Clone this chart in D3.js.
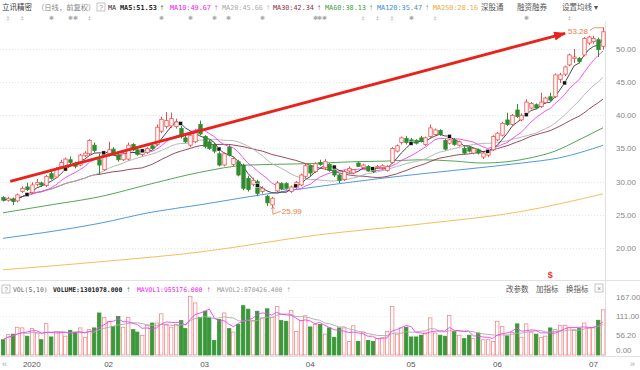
<!DOCTYPE html>
<html lang="zh">
<head>
<meta charset="utf-8">
<title>立讯精密 日线</title>
<script src="https://d3js.org/d3.v7.min.js"></script>
<style>
body { margin: 0; background: #fff; }
svg { display: block; }
.mono { font-family: "DejaVu Sans Mono", "Liberation Mono", monospace; }
.cjk { font-family: "Noto Sans CJK SC", "Noto Sans", sans-serif; }
.num { font-family: "Liberation Sans", Arial, sans-serif; }
</style>
</head>
<body>
<div id="viz"></div>
<script>
// daily candles, 2019-12-24 .. 2020-07-03 (front-adjusted)
var opens = [27.6,27.2,27.4,27.1,28.5,29.2,28.4,29.6,29.8,29.4,
  31.2,30.7,32.2,32.1,33.3,32.8,32.5,33.9,34.2,35.5,
  33.3,31.8,34.2,34.9,34.0,33.3,33.4,35.6,34.8,34.1,
  34.4,35.4,35.6,37.6,38.3,38.4,38.3,38.0,36.6,35.5,
  36.0,38.6,36.8,36.0,35.5,34.2,32.5,35.2,32.6,33.0,
  32.5,30.5,29.6,30.0,28.5,27.8,26.5,28.6,29.7,29.7,
  28.5,29.1,29.5,30.8,32.4,31.5,32.9,32.1,32.6,31.8,
  31.0,30.3,31.6,31.3,32.8,32.1,32.3,32.0,32.1,32.1,
  31.7,32.9,34.6,35.9,36.5,36.3,36.2,36.6,35.6,36.8,
  37.1,37.7,36.2,35.8,36.3,35.5,35.0,35.2,34.3,34.8,
  33.7,34.0,34.8,36.3,37.0,39.3,38.6,40.8,39.3,40.3,
  41.1,41.6,41.3,41.9,42.8,42.8,45.4,46.2,47.6,48.6,
  48.6,49.1,50.9,51.1,51.4,50.4];
var highs = [27.8,27.7,27.6,28.2,29.3,29.8,29.9,30.4,30.0,31.0,
  31.6,32.2,33.3,33.6,33.8,33.0,34.2,34.6,36.4,35.9,
  34.2,34.2,36.0,35.2,34.2,34.5,35.9,35.8,35.0,34.8,
  35.2,35.6,38.6,39.8,40.5,40.4,39.5,38.4,36.9,37.5,
  37.9,39.2,37.0,36.3,35.8,34.6,34.4,35.5,33.7,33.3,
  32.7,30.9,30.6,30.3,29.3,28.0,27.7,30.1,29.9,29.9,
  29.4,30.1,31.2,32.8,32.6,32.9,33.3,33.4,32.8,32.3,
  31.2,31.8,32.3,31.9,33.0,32.7,32.5,32.2,32.5,32.6,
  32.5,35.2,35.6,36.8,36.9,36.6,36.4,36.9,36.8,38.6,
  38.0,37.9,36.4,36.5,36.6,36.2,35.3,35.4,35.1,35.0,
  34.5,34.9,37.0,37.5,39.0,40.4,40.2,41.7,40.3,42.4,
  42.0,41.8,43.4,42.8,43.4,46.3,46.4,47.5,49.3,50.0,
  48.8,51.8,52.0,52.0,51.7,53.28];
var lows = [27.0,27.0,26.5,26.9,28.3,28.6,28.2,29.3,29.2,29.2,
  30.3,30.5,31.9,31.9,32.6,32.0,32.3,33.7,34.0,34.4,
  31.0,31.6,33.8,34.0,33.0,33.1,33.2,34.6,33.9,33.8,
  34.2,34.8,35.4,37.3,38.0,38.1,38.0,36.5,35.8,35.2,
  35.8,37.0,35.0,34.8,34.3,32.3,32.3,33.8,32.3,30.8,
  28.7,28.5,29.3,27.8,28.2,26.3,25.99,28.4,28.7,28.8,
  28.3,28.9,29.3,30.5,30.8,31.3,32.4,31.8,31.5,30.7,
  29.8,30.1,31.4,31.1,32.2,31.9,31.5,31.3,31.9,31.8,
  31.5,32.7,34.4,35.6,35.6,35.8,35.6,35.9,35.4,36.6,
  36.9,36.9,34.7,35.6,35.4,35.3,34.1,34.4,34.1,34.1,
  33.4,33.7,34.6,36.1,36.8,38.4,38.4,39.6,39.1,40.1,
  40.9,40.9,41.1,41.7,42.1,42.6,44.9,45.9,47.4,47.9,
  47.8,48.9,50.6,50.8,48.8,49.9];
var closes = [27.2,27.5,27.0,28.0,29.0,28.8,29.5,29.9,29.5,30.8,
  30.5,31.9,32.9,33.4,32.9,32.3,34.0,34.3,36.2,34.7,
  32.5,34.0,34.8,34.2,33.3,34.2,35.5,34.8,34.1,34.6,
  35.0,35.0,38.2,39.4,39.2,39.5,39.0,36.8,36.0,37.0,
  37.5,37.2,35.3,35.0,34.6,32.5,34.2,34.0,33.5,31.0,
  29.0,28.8,30.2,28.2,29.0,26.8,27.5,29.8,28.9,29.0,
  29.2,29.9,31.0,32.4,31.3,32.7,32.6,33.0,31.7,31.0,
  30.2,31.5,32.0,31.8,32.3,32.5,31.6,31.5,32.3,32.4,
  32.3,35.0,35.4,36.6,35.9,36.0,35.8,36.1,36.6,38.1,
  37.8,37.1,34.9,36.3,35.6,36.0,34.3,34.6,35.0,34.3,
  34.3,34.7,36.8,37.3,38.8,38.6,40.0,39.8,40.0,42.0,
  41.8,41.1,42.0,42.6,42.3,46.1,46.1,47.3,49.1,48.8,
  48.1,51.6,51.8,51.6,49.9,52.6];
// volume, unit 10k shares
var volumes = [44,58.5,60,79.8,78,54,76,63.5,44,90.4,
  52,68,66,54,71,66,78,51,73,78,
  121,108.5,97,82.5,111,80,108.5,73,66,56.6,
  85.6,92,92,118.6,87.6,80,87.6,99,76,169,
  150,108.5,126,107,42,102,121,76,66,88,
  142,132,99,126,107,133,108.5,140,99,97,
  128.8,68,99,113,80.8,88,88,60,78,51,
  78,78,39,84,39,66,42,39,47,49,
  68,140,60,78,80,52,52,57,63.5,107,
  63.5,57,54,114,68,57,47,57,47,63.5,
  44,44,39,97,82.5,55,65,89.6,51,89.6,
  66,60,51,54,78,73,85.6,85.6,78,73,
  76,92,78,78,100,130.1];

// long averages (history not shown)
var ma60Idx = [0,10,20,31,41,51,63,73,80,87,94,100,105,110,115,120,125];
var ma60Val = [25.3,26.5,27.7,29.7,31.4,32.5,32.7,33.0,33.1,33.3,33.1,32.8,33.0,33.6,34.6,36.3,38.13];
var ma120Idx = [0,20,31,41,51,63,80,94,108,116,125];
var ma120Val = [21.45,23.7,25.4,26.5,27.7,29.0,30.6,31.7,32.8,33.6,35.47];
var ma250Idx = [0,20,40,66,87,108,125];
var ma250Val = [16.7,17.9,19.3,22.0,23.6,25.5,28.16];

var monthIdx = [6,22,42,64,85,103,123];
var monthLab = ["2020","02","03","04","05","06","07"];
var priceTicks = [20,25,30,35,40,45,50];
var volTicks = [0,56.2,111,167];
var signalIdx = [5,13,21,29,37,45,53,61,69,77,85,93,101,109,117];
var eventIdx = [1,4,10,14,15,18,33,39,44,47,54,65,66,67,75,78,81,85,90,109,118];
var eventSym = ["‡","‡","✱","✱","✱","‡","✱","✱","✱","✱","✱","✱","✱","✱","‡","‡","‡","✱","‡","✱","‡"];
var trendI = [1.5,117.1], trendP = [30.05,52.37];

var RED = "#ee4b4b", GREEN = "#2f8c2f";

function ma(arr, n) {
  return arr.map(function(d, i) {
    var s = arr.slice(Math.max(0, i - n + 1), i + 1);
    return d3.mean(s);
  });
}
var ma5 = ma(closes, 5), ma10 = ma(closes, 10), ma20 = ma(closes, 20), ma30 = ma(closes, 30);
var mavol1 = ma(volumes, 5), mavol2 = ma(volumes, 10);

var svg = d3.select("#viz").append("svg").attr("width", 640).attr("height", 370);

var x = d3.scaleLinear().domain([0, 125]).range([3, 603]);
var y = d3.scaleLinear().domain([15.47, 54.07]).range([278, 22]);
var yv = d3.scaleLinear().domain([0, 207.3]).range([355, 283]);

// frame
svg.append("line").attr("x1", 0).attr("x2", 640).attr("y1", 280.5).attr("y2", 280.5).attr("stroke", "#e2e2e2");
svg.append("line").attr("x1", 0).attr("x2", 640).attr("y1", 356.5).attr("y2", 356.5).attr("stroke", "#e2e2e2");
svg.append("line").attr("x1", 605.5).attr("x2", 605.5).attr("y1", 22).attr("y2", 357).attr("stroke", "#e2e2e2");

// grid + right axis
svg.append("g").selectAll("line").data(priceTicks).enter().append("line")
  .attr("x1", 0).attr("x2", 605).attr("y1", function(d) { return Math.round(y(d)) + 0.5; })
  .attr("y2", function(d) { return Math.round(y(d)) + 0.5; })
  .attr("stroke", "#e4e4e4").attr("stroke-dasharray", "1,2");
svg.append("g").selectAll("text").data(priceTicks).enter().append("text")
  .attr("class", "num").attr("x", 616).attr("y", function(d) { return y(d) + 3; })
  .attr("font-size", "8px").attr("fill", "#888").text(d3.format(".2f"));

svg.append("g").selectAll("line").data(volTicks.slice(1)).enter().append("line")
  .attr("x1", 0).attr("x2", 605).attr("y1", function(d) { return Math.round(yv(d)) + 0.5; })
  .attr("y2", function(d) { return Math.round(yv(d)) + 0.5; })
  .attr("stroke", "#ececec").attr("stroke-dasharray", "1,2");
svg.append("g").selectAll("text").data(volTicks).enter().append("text")
  .attr("class", "num").attr("x", 616).attr("y", function(d) { return d === 0 ? yv(d) - 2 : yv(d) + 3; })
  .attr("font-size", "8px").attr("fill", "#888").text(d3.format(".2f"));

// moving averages
var idx = d3.range(closes.length);
function lineOf(vals) {
  return d3.line().x(function(i) { return x(i); }).y(function(i) { return y(vals[i]); })(idx);
}
function sampled(ix, vals) {
  var pts = ix.map(function(i, k) { return [x(i), y(vals[k])]; });
  return d3.line().curve(d3.curveMonotoneX)(pts);
}
var maLayer = svg.append("g").attr("fill", "none").attr("stroke-width", 0.9);
maLayer.append("path").attr("d", sampled(ma250Idx, ma250Val)).attr("stroke", "#f5b54a");
maLayer.append("path").attr("d", sampled(ma120Idx, ma120Val)).attr("stroke", "#3b8edb");
maLayer.append("path").attr("d", sampled(ma60Idx, ma60Val)).attr("stroke", "#3e9e3e");
maLayer.append("path").attr("d", lineOf(ma30)).attr("stroke", "#8e3447");
maLayer.append("path").attr("d", lineOf(ma20)).attr("stroke", "#b0b0b0");
maLayer.append("path").attr("d", lineOf(ma10)).attr("stroke", "#f040f0");
maLayer.append("path").attr("d", lineOf(ma5)).attr("stroke", "#333");

// candles
var candles = svg.append("g").selectAll("g").data(idx).enter().append("g");
candles.each(function(i) {
  var g = d3.select(this);
  var up = closes[i] >= opens[i];
  var cx = Math.round(x(i)) + 0.5;
  var top = y(Math.max(opens[i], closes[i])), bot = y(Math.min(opens[i], closes[i]));
  var col = up ? RED : GREEN;
  g.append("line").attr("x1", cx).attr("x2", cx).attr("y1", y(highs[i])).attr("y2", top).attr("stroke", col);
  g.append("line").attr("x1", cx).attr("x2", cx).attr("y1", bot).attr("y2", y(lows[i])).attr("stroke", col);
  g.append("rect").attr("x", cx - 1.7).attr("width", 3.4).attr("y", top)
    .attr("height", Math.max(0.8, bot - top))
    .attr("fill", up ? "#fff" : GREEN).attr("stroke", col).attr("stroke-width", 0.8);
});

// signal squares on MA5
svg.append("g").selectAll("rect").data(signalIdx).enter().append("rect")
  .attr("x", function(i) { return x(i) - 2; }).attr("y", function(i) { return y(ma5[i]) - 2; })
  .attr("width", 4).attr("height", 4).attr("fill", "#111").attr("stroke", "#fff").attr("stroke-width", 0.5);

// trend arrow
svg.append("defs").append("marker").attr("id", "arr")
  .attr("markerUnits", "userSpaceOnUse").attr("markerWidth", 12).attr("markerHeight", 9)
  .attr("refX", 11).attr("refY", 4.5).attr("orient", "auto")
  .append("path").attr("d", "M0,0 L12,4.5 L0,9 Z").attr("fill", "#e8231c");
svg.append("line")
  .attr("x1", x(trendI[0])).attr("y1", y(trendP[0]))
  .attr("x2", x(trendI[1])).attr("y2", y(trendP[1]))
  .attr("stroke", "#e8231c").attr("stroke-width", 2.8).attr("marker-end", "url(#arr)");

// high / low labels
var hiI = d3.maxIndex(highs), loI = d3.minIndex(lows);
var ann = svg.append("g").attr("fill", "none").attr("stroke", "#f07a3c").attr("stroke-width", 0.8);
ann.append("polyline").attr("points", [[x(hiI) - 13, y(highs[hiI]) + 3], [x(hiI) - 9, y(highs[hiI]) + 0.5], [x(hiI), y(highs[hiI]) + 0.5]].join(" "));
svg.append("text").attr("class", "num").attr("x", x(hiI) - 15).attr("y", y(highs[hiI]) + 7)
  .attr("text-anchor", "end").attr("font-size", "8px").attr("fill", "#f07a3c").text(d3.format(".2f")(highs[hiI]));
ann.append("polyline").attr("points", [[x(loI) + 1, y(lows[loI]) - 1], [x(loI) + 1, y(lows[loI]) + 6], [x(loI) + 9, y(lows[loI]) + 3]].join(" "));
ann.append("path").attr("d", "M" + (x(loI) - 1) + "," + (y(lows[loI]) + 1) + " L" + (x(loI) + 1) + "," + (y(lows[loI]) - 1.5) + " L" + (x(loI) + 3) + "," + (y(lows[loI]) + 1));
svg.append("text").attr("class", "num").attr("x", x(loI) + 10).attr("y", y(lows[loI]) + 6)
  .attr("font-size", "8px").attr("fill", "#f07a3c").text(d3.format(".2f")(lows[loI]));

svg.append("text").attr("class", "num").attr("x", x(114)).attr("y", 278).attr("text-anchor", "middle")
  .attr("font-size", "9px").attr("font-weight", "bold").attr("fill", "#e33").text("$");

// volume bars
svg.append("g").selectAll("rect").data(idx).enter().append("rect")
  .attr("x", function(i) { return Math.round(x(i)) - 1.5; })
  .attr("width", 3.4)
  .attr("y", function(i) { return yv(volumes[i]); })
  .attr("height", function(i) { return yv(0) - yv(volumes[i]); })
  .attr("fill", function(i) { return closes[i] >= opens[i] ? "#fff" : "#3a983a"; })
  .attr("stroke", function(i) { return closes[i] >= opens[i] ? "#f28a8a" : "#3a983a"; })
  .attr("stroke-width", 0.8);

var vl = d3.line().x(function(i) { return x(i); });
svg.append("path").attr("fill", "none").attr("stroke", "#aaa").attr("stroke-width", 0.9)
  .attr("d", vl.y(function(i) { return yv(mavol2[i]); })(idx));
svg.append("path").attr("fill", "none").attr("stroke", "#f040f0").attr("stroke-width", 0.9)
  .attr("d", vl.y(function(i) { return yv(mavol1[i]); })(idx));

// x axis
svg.append("g").selectAll("text").data(monthIdx).enter().append("text")
  .attr("class", "num").attr("x", function(i) { return x(i); }).attr("y", 367)
  .attr("text-anchor", "middle").attr("font-size", "8px").attr("fill", "#555")
  .text(function(d, k) { return monthLab[k]; });
svg.append("text").attr("class", "num").attr("x", 2).attr("y", 367).attr("font-size", "9px").attr("fill", "#aaa").text("«");
svg.append("text").attr("class", "num").attr("x", 630).attr("y", 367).attr("font-size", "9px").attr("fill", "#aaa").text("»");

// event marks row
svg.append("g").selectAll("text").data(eventIdx).enter().append("text")
  .attr("x", function(i) { return x(i); }).attr("y", 20).attr("text-anchor", "middle")
  .attr("font-size", "6px").attr("fill", "#aaa").attr("class", "num")
  .text(function(d, k) { return eventSym[k]; });

// header legend
function box(bx, by) {
  var g = svg.append("g");
  g.append("rect").attr("x", bx).attr("y", by).attr("width", 8).attr("height", 8)
    .attr("fill", "#fff").attr("stroke", "#aaa").attr("stroke-width", 0.7);
  g.append("text").attr("class", "num").attr("x", bx + 4).attr("y", by + 6.5).attr("text-anchor", "middle")
    .attr("font-size", "6.5px").attr("fill", "#888").text("?");
}
svg.append("text").attr("class", "cjk").attr("x", 2).attr("y", 10).attr("font-size", "7.5px").attr("fill", "#333").text("立讯精密");
svg.append("text").attr("class", "cjk").attr("x", 37).attr("y", 10).attr("font-size", "7.3px").attr("fill", "#888").text("（日线，前复权）");
box(97, 3);

var legendX = [108, 120, 170, 222, 273, 325, 377, 433];
var legendT = ["MA", "MA5:51.53", "MA10:49.67", "MA20:45.66", "MA30:42.34", "MA60:38.13", "MA120:35.47", "MA250:28.16"];
var legendC = ["#333", "#222", "#f020f0", "#aaa", "#8e3447", "#3e9e3e", "#3b8edb", "#f5a83a"];
var legendA = [false, true, true, true, true, true, true, false];
legendT.forEach(function(t, k) {
  var tx = svg.append("text").attr("class", "mono").attr("x", legendX[k]).attr("y", 10)
    .attr("font-size", "6.8px").attr("fill", legendC[k]).attr("font-weight", k === 1 ? "bold" : "normal").text(t);
  if (legendA[k]) {
    var w = tx.node().getComputedTextLength();
    svg.append("text").attr("class", "num").attr("x", legendX[k] + w + 3).attr("y", 10)
      .attr("font-size", "8px").attr("fill", legendC[k]).text("↑");
  }
});
svg.append("text").attr("class", "cjk").attr("x", 481).attr("y", 10).attr("font-size", "7.5px").attr("fill", "#555").text("深股通");
svg.append("text").attr("class", "cjk").attr("x", 517).attr("y", 10).attr("font-size", "7.5px").attr("fill", "#555").text("融资融券");
svg.append("text").attr("class", "cjk").attr("x", 562).attr("y", 10).attr("font-size", "7.5px").attr("fill", "#555").text("设置均线 ▾");

// volume header
box(2, 285);
var vX = [13, 53, 137, 217];
var vT = ["VOL(5,10)", "VOLUME:1301078.000", "MAVOL1:955176.000", "MAVOL2:870426.400"];
var vC = ["#666", "#222", "#f020f0", "#999"];
vT.forEach(function(t, k) {
  var tx = svg.append("text").attr("class", "mono").attr("x", vX[k]).attr("y", 292)
    .attr("font-size", "6.4px").attr("fill", vC[k]).attr("font-weight", k === 1 ? "bold" : "normal").text(t);
  if (k > 0) {
    var w = tx.node().getComputedTextLength();
    svg.append("text").attr("class", "num").attr("x", vX[k] + w + 4).attr("y", 292)
      .attr("font-size", "8px").attr("fill", vC[k] === "#222" ? "#555" : vC[k]).text("↑");
  }
});
svg.append("text").attr("class", "cjk").attr("x", 506).attr("y", 292).attr("font-size", "7.5px").attr("fill", "#555").text("改参数");
svg.append("text").attr("class", "cjk").attr("x", 536).attr("y", 292).attr("font-size", "7.5px").attr("fill", "#555").text("加指标");
svg.append("text").attr("class", "cjk").attr("x", 566).attr("y", 292).attr("font-size", "7.5px").attr("fill", "#555").text("换指标");
svg.append("rect").attr("x", 595).attr("y", 284).attr("width", 8).attr("height", 8)
  .attr("fill", "#fff").attr("stroke", "#aaa").attr("stroke-width", 0.7);
svg.append("text").attr("class", "num").attr("x", 599).attr("y", 290.5).attr("text-anchor", "middle")
  .attr("font-size", "7px").attr("fill", "#888").text("×");
</script>
</body>
</html>
